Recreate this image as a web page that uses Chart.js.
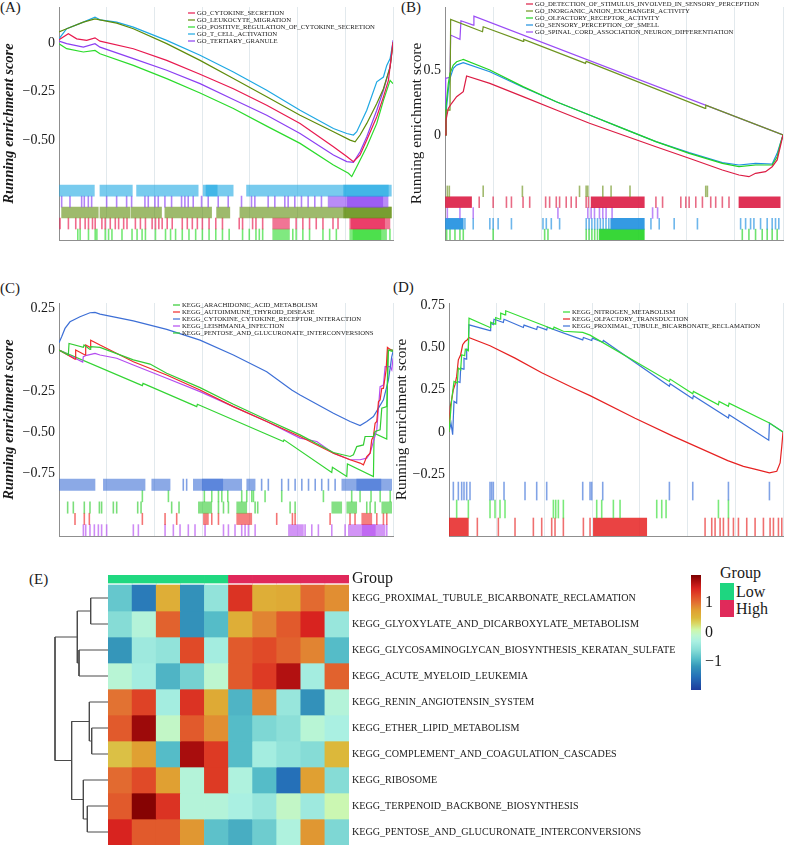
<!DOCTYPE html>
<html>
<head>
<meta charset="utf-8">
<script src="https://cdn.jsdelivr.net/npm/chart.js@4.4.1/dist/chart.umd.min.js"></script>
<style>
  body { margin: 0; background: #fff; }
  #fig { position: relative; width: 787px; height: 860px; overflow: hidden; font-family: "Liberation Serif", "DejaVu Serif", serif; color: #1a1a1a; }
  #fig canvas { position: absolute; }
  .tag { position: absolute; font-size: 15px; line-height: 15px; }
  .swatch { position: absolute; width: 14px; height: 17px; }
  .leg { position: absolute; font-size: 16px; line-height: 16px; }
</style>
</head>
<body>
<div id="fig">
  <div class="tag" style="left:0;top:0">(A)</div>
  <div class="tag" style="left:401px;top:0">(B)</div>
  <div class="tag" style="left:0;top:281px">(C)</div>
  <div class="tag" style="left:393px;top:280px">(D)</div>
  <div class="tag" style="left:29px;top:572px">(E)</div>
  <div class="leg" style="left:720px;top:565px">Group</div>
  <div class="swatch" style="left:720px;top:583px;background:#1ed680"></div>
  <div class="swatch" style="left:720px;top:600px;background:#e02a5a"></div>
  <div class="leg" style="left:736px;top:584px">Low</div>
  <div class="leg" style="left:736px;top:601px">High</div>
</div>
<script>
// ---- shared axis values ----
const X_MAX = 17950;
const X_TICKS = [5000, 10000, 15000];
const X_TICK_TEXT = ['5000', '10,000', '15,000'];

// ---- (A) GO, running enrichment score ----
const A_LABELS = ['GO_CYTOKINE_SECRETION', 'GO_LEUKOCYTE_MIGRATION', 'GO_POSITIVE_REGULATION_OF_CYTOKINE_SECRETION', 'GO_T_CELL_ACTIVATION', 'GO_TERTIARY_GRANULE'];
const A_CYTOKINE = [[0,0.017],[502,0.048],[950,0.022],[1487,0.014],[1935,0.027],[2204,0.01],[3996,-0.029],[5788,-0.089],[7580,-0.161],[9372,-0.235],[11164,-0.32],[12956,-0.414],[14748,-0.534],[15465,-0.585],[15823,-0.611],[16181,-0.577],[16540,-0.5],[17078,-0.38],[17436,-0.277],[17705,-0.192],[17950,0.005]];
const A_LEUKOCYTE = [[0,0.057],[412,0.074],[1308,0.108],[1935,0.125],[2204,0.12],[3100,0.103],[3996,0.074],[5788,-0.003],[7580,-0.089],[9372,-0.183],[11164,-0.277],[12956,-0.372],[14748,-0.457],[15644,-0.5],[15913,-0.509],[16181,-0.474],[16540,-0.414],[17078,-0.312],[17436,-0.235],[17795,-0.123],[17950,-0.003]];
const A_POSITIVE = [[0,-0.003],[412,-0.029],[1308,-0.046],[1935,-0.038],[2204,-0.055],[3996,-0.115],[5788,-0.183],[7580,-0.257],[9372,-0.337],[11164,-0.428],[12956,-0.517],[14748,-0.628],[15555,-0.671],[15734,-0.688],[16002,-0.637],[16540,-0.534],[17078,-0.414],[17436,-0.295],[17795,-0.192],[17950,-0.209]];
const A_TCELL = [[0,0.022],[412,0.074],[1308,0.108],[1935,0.134],[2204,0.12],[3100,0.108],[3996,0.082],[5788,0.014],[7580,-0.063],[9372,-0.149],[11164,-0.243],[12956,-0.346],[14748,-0.44],[15465,-0.466],[15823,-0.474],[16002,-0.457],[16540,-0.346],[17078,-0.2],[17436,-0.175],[17615,-0.115],[17795,-0.08],[17950,0.005]];
const A_TERTIARY = [[0,0.01],[412,-0.003],[1308,-0.021],[1935,-0.003],[2204,-0.021],[3996,-0.08],[5788,-0.14],[7580,-0.209],[9372,-0.291],[11164,-0.372],[12956,-0.466],[14748,-0.577],[15465,-0.611],[15823,-0.615],[16181,-0.56],[16540,-0.483],[17078,-0.346],[17436,-0.243],[17795,-0.123],[17950,0.014]];
// gene hits: single rank or [from, to] for a run of hits
const A_RUG_TCELL = [[0,1900],[2200,3940],[4170,7480],[7750,9360],[10080,17860],[7900,8500],[15300,17700]];
const A_RUG_TERTIARY = [143,590,1217,1360,1575,1754,2560,3097,3634,3902,4618,4797,5155,5334,5692,6050,6587,6766,6945,7214,7661,8019,8556,9093,9809,10346,10525,11241,11599,12136,12315,12673,13031,13389,13747,14105,[14463,17685],[15500,17400]];
const A_RUG_LEUKOCYTE = [[140,2110],[2200,3810],[3870,5510],[5690,8200],[8470,9180],[9720,17860],[15300,17860]];
const A_RUG_CYTOKINE = [55,505,900,1135,1405,1585,1800,1945,2305,2485,2755,3025,3205,3475,3655,4105,4375,4645,5005,5185,5365,5545,5815,6085,6625,6895,7165,7435,7705,8065,8425,8785,9685,9865,10405,10585,10945,[11485,12385],12745,13105,13465,13825,14185,14725,14995,[15625,17785],[15700,17500]];
const A_RUG_POSITIVE = [1010,1135,1585,1945,2035,2485,2665,2845,3385,3925,4195,4465,4645,5185,5725,5995,6265,6625,6985,7345,7705,8065,8425,8785,9145,9865,10225,10585,10765,10945,[11485,12385],12565,12745,13105,13465,14185,14545,14905,[15625,17605],[15800,17300],17785];

// ---- (B) GO, positive ----
const B_LABELS = ['GO_DETECTION_OF_STIMULUS_INVOLVED_IN_SENSORY_PERCEPTION', 'GO_INORGANIC_ANION_EXCHANGER_ACTIVITY', 'GO_OLFACTORY_RECEPTOR_ACTIVITY', 'GO_SENSORY_PERCEPTION_OF_SMELL', 'GO_SPINAL_CORD_ASSOCIATION_NEURON_DIFFERENTIATION'];
const B_DETECTION = [[0,0],[53,0.115],[176,0.205],[353,0.244],[617,0.295],[970,0.333],[1147,0.454],[2381,0.397],[4145,0.295],[5909,0.192],[7673,0.09],[9437,0],[11201,-0.09],[12965,-0.179],[14729,-0.269],[15611,-0.308],[16141,-0.321],[16493,-0.295],[17023,-0.282],[17375,-0.244],[17640,-0.192],[17950,0]];
const B_INORGANIC = [[0,0],[53,0.192],[265,0.192],[300,0.89],[1993,0.795],[2029,0.833],[4145,0.72],[4181,0.736],[7462,0.551],[7497,0.567],[13812,0.205],[13847,0.229],[17950,0]];
const B_OLFACTORY = [[0,0],[53,0.218],[176,0.397],[265,0.474],[441,0.538],[617,0.564],[882,0.577],[970,0.582],[2381,0.5],[4145,0.372],[5909,0.256],[7673,0.154],[9437,0.051],[11201,-0.051],[12965,-0.141],[14729,-0.218],[15611,-0.244],[16493,-0.231],[17375,-0.231],[17640,-0.167],[17817,-0.064],[17950,0]];
const B_SENSORY = [[0,0],[53,0.167],[176,0.346],[265,0.436],[441,0.513],[617,0.538],[970,0.556],[2381,0.487],[4145,0.367],[5909,0.256],[7673,0.154],[9437,0.051],[11201,-0.051],[12965,-0.136],[14729,-0.213],[15611,-0.231],[16493,-0.218],[17375,-0.223],[17640,-0.141],[17950,0]];
const B_SPINAL = [[0,0],[35,0.436],[265,0.444],[300,0.769],[794,0.736],[847,0.879],[1499,0.846],[1535,0.915],[17950,0]];
const B_RUG_INORGANIC = [123,229,2028,4110,7144,7496,7585,8379,8820,9825,13847,13935];
const B_RUG_DETECTION = [[0,1410],1816,2557,3263,3528,4145,4498,5345,5556,5909,6086,6438,6703,6967,7496,7620,[7760,10584],11201,11554,12524,12789,12965,13318,13671,14112,14376,14729,15082,[15611,17800]];
const B_RUG_SPINAL = [123,793,1499,5997,7585,7761,7938,8203,8379,8555,8873,11025,11290];
const B_RUG_SENSORY = [[0,970],1058,1499,2381,2557,2822,3528,5203,5380,5645,6086,7500,7650,7800,7950,8100,8250,8400,8550,8700,[8800,10584],10937,11377,12171,13406,15699,15964,16228,16405,16758,17110,17375,17552,17728];
const B_RUG_OLFACTORY = [88,265,529,793,970,2557,5292,5468,7500,7650,7800,7950,8100,[8200,10584],15788,16140,16493,16846,17110,17375,17640];

// ---- (C) KEGG, negative ----
const C_LABELS = ['KEGG_ARACHIDONIC_ACID_METABOLISM', 'KEGG_AUTOIMMUNE_THYROID_DISEASE', 'KEGG_CYTOKINE_CYTOKINE_RECEPTOR_INTERACTION', 'KEGG_LEISHMANIA_INFECTION', 'KEGG_PENTOSE_AND_GLUCURONATE_INTERCONVERSIONS'];
const C_ARACHIDONIC = [[0,0],[502,-0.03],[538,0.04],[1308,0.016],[1344,0.03],[1667,0.004],[1702,0.02],[2204,0.016],[3996,-0.06],[4892,-0.085],[5788,-0.141],[7580,-0.228],[9372,-0.329],[11164,-0.423],[12956,-0.514],[14748,-0.621],[15644,-0.645],[15823,-0.635],[16002,-0.585],[16360,-0.575],[16450,-0.524],[16898,-0.524],[16988,-0.494],[17257,-0.484],[17347,-0.353],[17615,-0.343],[17705,0],[17950,0]];
const C_AUTOIMMUNE = [[0,0],[860,-0.056],[896,0],[1398,-0.03],[1434,0.03],[1667,0.016],[1702,0.06],[2204,0.03],[3996,-0.071],[5788,-0.151],[7580,-0.242],[9372,-0.343],[11164,-0.433],[12956,-0.524],[14748,-0.625],[15644,-0.665],[16181,-0.685],[16360,-0.696],[16540,-0.645],[16719,-0.625],[16809,-0.544],[16898,-0.524],[16988,-0.444],[17078,-0.433],[17168,-0.313],[17257,-0.302],[17347,-0.232],[17436,-0.232],[17580,-0.121],[17650,0.016],[17800,0.004],[17950,-0.004]];
const C_CYTOKINE = [[0,0.044],[143,0.081],[323,0.131],[591,0.171],[1129,0.202],[1667,0.226],[1935,0.228],[2204,0.218],[3996,0.177],[5788,0.125],[7580,0.06],[9372,-0.03],[11164,-0.131],[12508,-0.242],[12956,-0.272],[14748,-0.383],[15644,-0.433],[16181,-0.458],[16540,-0.433],[16898,-0.403],[17436,-0.302],[17705,-0.181],[17884,-0.04],[17950,-0.01]];
const C_LEISHMANIA = [[0,0],[1272,-0.073],[1308,-0.04],[1487,-0.032],[1935,-0.02],[2204,-0.03],[3100,-0.05],[3996,-0.091],[5788,-0.171],[7580,-0.252],[9372,-0.343],[11164,-0.433],[12956,-0.534],[13852,-0.554],[14748,-0.625],[15644,-0.665],[16181,-0.665],[16540,-0.655],[16719,-0.625],[16898,-0.554],[17078,-0.484],[17257,-0.222],[17436,-0.212],[17526,-0.101],[17795,-0.101],[17884,-0.121],[17950,-0.05]];
const C_PENTOSE = [[0,0],[4480,-0.216],[4516,-0.202],[7401,-0.343],[7437,-0.329],[12060,-0.554],[12096,-0.544],[14658,-0.742],[14694,-0.71],[15465,-0.766],[15501,-0.69],[16898,-0.766],[16934,-0.504],[17615,-0.54],[17669,0],[17950,-0.01]];
const C_RUG_CYTOKINE = [[0,1935],[2385,4625],[4985,5970],6680,6860,[7220,9820],[10090,10540],10890,11250,11970,12330,12690,13050,13410,13770,14120,14480,14840,[15200,17880],[7700,8800],[16000,17300]];
const C_RUG_PENTOSE = [4480,5880,7810,8210,8570,8750,9070,9820,10090,10360,10450,11075,11970,14210,15730,16180,16770,17260,17800];
const C_RUG_ARACHIDONIC = [465,770,1360,1665,2170,2290,2920,3100,4230,4410,6055,6450,[7490,8210],8570,8840,9105,[9550,10090],10540,10680,12420,12690,[14660,15195],[15465,16000],16540,16720,16990,[17345,17880]];
const C_RUG_AUTOIMMUNE = [860,1360,1630,4480,5700,6325,[7760,8030],8210,8570,[9550,10360],11700,12545,12690,14570,15640,15910,[16270,16810],17080,17435,17615];
const C_RUG_LEISHMANIA = [1310,1435,1665,1900,2115,2290,2560,3995,4265,5700,6145,6505,6950,7310,7850,8840,9105,9460,9820,10000,10180,10540,[12330,13135],13225,13585,13940,14660,15375,[15550,17525],[16300,17000],17615];

// ---- (D) KEGG, positive ----
const D_LABELS = ['KEGG_NITROGEN_METABOLISM', 'KEGG_OLFACTORY_TRANSDUCTION', 'KEGG_PROXIMAL_TUBULE_BICARBONATE_RECLAMATION'];
const D_NITROGEN = [[0,0],[143,0.191],[269,0.299],[448,0.289],[502,0.378],[627,0.368],[681,0.457],[842,0.451],[878,0.49],[1039,0.48],[1075,0.673],[2204,0.618],[2240,0.65],[2473,0.638],[2509,0.677],[2742,0.667],[2778,0.703],[3011,0.693],[3046,0.717],[5609,0.608],[5645,0.62],[6146,0.596],[7186,0.589],[7580,0.573],[11845,0.299],[11881,0.313],[13100,0.226],[13135,0.24],[14479,0.161],[14515,0.181],[15017,0.152],[15053,0.171],[17221,0.053],[17950,0]];
const D_OLFACTORY = [[0,0],[72,0.152],[143,0.191],[233,0.25],[323,0.28],[412,0.329],[502,0.427],[627,0.457],[735,0.516],[860,0.535],[986,0.545],[1057,0.559],[2204,0.51],[3548,0.437],[4982,0.35],[6684,0.26],[7580,0.215],[9999,0.081],[12060,-0.026],[14981,-0.169],[15823,-0.203],[16540,-0.222],[17221,-0.242],[17615,-0.232],[17795,-0.183],[17884,-0.085],[17950,0]];
const D_PROXIMAL = [[0,0],[108,0.053],[197,-0.016],[269,0.181],[412,0.171],[448,0.299],[591,0.293],[627,0.378],[771,0.372],[806,0.437],[914,0.431],[950,0.49],[1039,0.486],[1075,0.634],[2204,0.6],[2240,0.644],[2383,0.636],[2419,0.667],[2921,0.648],[2957,0.667],[3996,0.618],[4032,0.632],[4713,0.606],[4749,0.624],[5250,0.604],[5286,0.62],[7186,0.545],[7222,0.559],[7670,0.541],[7706,0.555],[8261,0.531],[8297,0.541],[11845,0.27],[11881,0.285],[13100,0.197],[13135,0.215],[15017,0.083],[15053,0.102],[17185,-0.049],[17221,0.053],[17950,0]];
const D_RUG_PROXIMAL = [233,502,681,806,950,1129,2204,2294,2383,2957,4085,4713,5250,7186,7580,7670,8261,11845,13100,15017,17221];
const D_RUG_NITROGEN = [412,1040,2204,2473,2742,3010,5609,5734,5877,6146,7938,8207,8834,9193,11164,11433,11666,14480,15017];
const D_RUG_OLFACTORY = [[18,1040],1523,2652,3548,4534,4982,5519,5698,6146,7222,7580,[7759,10626],13762,14121,14300,14569,14748,15017,15286,15555,16002,16450,16898,17256,17436,17705,17884];

// ---- (E) heatmap ----
const SAMPLES = ['S1','S2','S3','S4','S5','S6','S7','S8','S9','S10'];
const GROUPS = ['Low','Low','Low','Low','Low','High','High','High','High','High'];
const PATHWAYS = ['KEGG_PROXIMAL_TUBULE_BICARBONATE_RECLAMATION', 'KEGG_GLYOXYLATE_AND_DICARBOXYLATE_METABOLISM', 'KEGG_GLYCOSAMINOGLYCAN_BIOSYNTHESIS_KERATAN_SULFATE', 'KEGG_ACUTE_MYELOID_LEUKEMIA', 'KEGG_RENIN_ANGIOTENSIN_SYSTEM', 'KEGG_ETHER_LIPID_METABOLISM', 'KEGG_COMPLEMENT_AND_COAGULATION_CASCADES', 'KEGG_RIBOSOME', 'KEGG_TERPENOID_BACKBONE_BIOSYNTHESIS', 'KEGG_PENTOSE_AND_GLUCURONATE_INTERCONVERSIONS'];
const HM = [
  [-0.8, -1.4, 0.6, -1.2, -0.5, 1.4, 0.6, 0.65, 1.05, 0.85],
  [-0.6, -0.2, 1.1, -1.2, -0.9, 0.6, 0.9, 1.15, 1.5, -0.45],
  [-1.15, -0.4, -0.5, 1.25, -0.35, 1.15, 1.25, 1.1, 0.9, -0.9],
  [-0.15, -0.35, -0.95, -0.7, -0.1, 1.15, 1.35, 1.7, -0.35, 1.1],
  [1.0, 1.3, -0.35, 1.4, 0.65, -0.95, 0.9, -0.45, -1.2, -0.2],
  [1.15, 1.8, -0.05, 1.15, 0.85, -0.9, -0.65, -0.55, -0.15, -0.3],
  [0.45, 0.75, -0.9, 1.75, 1.35, -0.9, -0.35, -0.5, -0.6, 0.5],
  [1.05, 1.25, 0.75, -0.2, 1.35, -0.25, -0.9, -1.5, 0.75, -0.6],
  [1.15, 1.9, 1.4, -0.2, -0.2, -0.3, -0.45, -0.05, -0.4, 0.05],
  [1.5, 1.15, 1.15, 0.8, -0.85, -1.0, -0.75, -0.25, 0.8, -0.65]
];
// row clustering: [left, right, height]; leaves 0-9, merged nodes from 10
const MERGES = [[0,1,3.27],[5,6,3.08],[4,11,3.52],[8,9,3.9],[7,13,4.65],[2,3,5.47],[10,15,5.79],[12,14,6.86],[16,17,10]];
const SCALE_TICKS = [-1, 0, 1];
const COLOR_STOPS = [[-1.95,'#1d3c9c'],[-1.5,'#2570b8'],[-1.15,'#3596ba'],[-0.9,'#55bcc8'],[-0.6,'#86dcd6'],[-0.3,'#aaf0e2'],[-0.1,'#bdf6d0'],[0.1,'#cff7a8'],[0.3,'#d9d865'],[0.5,'#dcb83a'],[0.75,'#e0a032'],[1.0,'#e27232'],[1.25,'#e04a28'],[1.5,'#d8231f'],[1.75,'#a80d0d'],[1.95,'#7a0000']];
const GROUP_COLORS = {Low: '#20d880', High: '#e0285a'};

// ---------------------------------------------------------------
const FONT = '"Liberation Serif", "DejaVu Serif", serif';
Chart.defaults.font.family = FONT;
const INK = '#1a1a1a', AXIS = '#8f8f8f', GRID = '#e2e9ed';
const TICK_HALF = 25;

function rgba(hex, a) {
  const n = parseInt(hex.slice(1), 16);
  return `rgba(${n >> 16},${(n >> 8) & 255},${n & 255},${a})`;
}
function fmt(v, d) {
  return v === 0 ? '0' : (v < 0 ? '\u2212' : '') + Math.abs(v).toFixed(d);
}
function mkCanvas(b) {
  const c = document.createElement('canvas');
  c.width = b.w; c.height = b.h;
  Object.assign(c.style, {left: b.l + 'px', top: b.t + 'px', width: b.w + 'px', height: b.h + 'px'});
  document.getElementById('fig').appendChild(c);
  return c;
}
function heatColor(v) {
  const s = COLOR_STOPS;
  if (v <= s[0][0]) return s[0][1];
  for (let i = 1; i < s.length; i++) {
    if (v <= s[i][0]) {
      const t = (v - s[i - 1][0]) / (s[i][0] - s[i - 1][0]);
      const a = parseInt(s[i - 1][1].slice(1), 16), b = parseInt(s[i][1].slice(1), 16);
      const mix = sh => Math.round(((a >> sh) & 255) * (1 - t) + ((b >> sh) & 255) * t);
      return `rgb(${mix(16)},${mix(8)},${mix(0)})`;
    }
  }
  return s[s.length - 1][1];
}

// small line-key drawn inside the plot, like the ggplot legend
const lineLegend = {
  id: 'lineLegend',
  afterDraw(chart, args, opts) {
    const ctx = chart.ctx;
    ctx.save();
    ctx.font = `${opts.size}px ${FONT}`;
    ctx.textBaseline = 'middle';
    chart.data.datasets.filter(d => d.type === 'line').forEach((d, i) => {
      const y = opts.y + i * opts.gap;
      ctx.strokeStyle = d.borderColor;
      ctx.lineWidth = 1.2;
      ctx.beginPath(); ctx.moveTo(opts.x, y); ctx.lineTo(opts.x + 7, y); ctx.stroke();
      ctx.fillStyle = INK;
      ctx.fillText(d.label, opts.x + 9, y);
    });
    ctx.restore();
  }
};

function gsea(p) {
  const b = p.box, a = p.area;
  const rowH = (p.rugTop - p.yMin) / p.rugs.length;
  const datasets = p.series.map(s => ({
    type: 'line', label: s.label, data: s.points.map(([x, y]) => ({x, y})),
    borderColor: s.color, borderWidth: 1.2, pointRadius: 0, tension: 0, fill: false
  }));
  p.rugs.forEach((r, i) => {
    const yc = p.rugTop - rowH * (i + 0.5);
    datasets.push({
      type: 'bar', indexAxis: 'y',
      data: r.hits.map(h => ({y: yc, x: Array.isArray(h) ? h : [h - TICK_HALF, h + TICK_HALF]})),
      backgroundColor: r.hits.map(h => rgba(r.color, Array.isArray(h) ? p.blockAlpha : p.tickAlpha)),
      borderWidth: 0, grouped: false, barPercentage: 1, categoryPercentage: 1
    });
  });
  const yW = a.l - p.axisLeft, xH = b.t + b.h - a.b;
  new Chart(mkCanvas(b), {
    type: 'line',
    data: {datasets},
    options: {
      responsive: false, animation: false, events: [],
      layout: {autoPadding: false, padding: {left: p.axisLeft - b.l, top: a.t - b.t, right: b.l + b.w - a.r, bottom: 0}},
      plugins: {
        legend: {display: false}, tooltip: {enabled: false},
        lineLegend: {x: p.legend.x - b.l, y: p.legend.y - b.t, gap: 7, size: 6.7}
      },
      scales: {
        x: {
          type: 'linear', min: 0, max: X_MAX, offset: false,
          grid: {color: GRID, lineWidth: 1, drawTicks: false, offset: false},
          border: {color: AXIS, width: 1},
          ticks: {
            stepSize: 2500, includeBounds: false, autoSkip: false, maxRotation: 0,
            padding: p.xPad, color: INK, font: {size: 14},
            callback: v => { const k = X_TICKS.indexOf(v); return k < 0 ? '' : X_TICK_TEXT[k]; }
          },
          afterFit: s => { s.height = xH; s.paddingLeft = 0; s.paddingRight = 0; }
        },
        y: {
          type: 'linear', min: p.yMin, max: p.yMax, offset: false, beginAtZero: false,
          grid: {display: false, drawTicks: false},
          border: {color: AXIS, width: 1},
          afterBuildTicks: s => { s.ticks = p.yTicks.map(v => ({value: v})); },
          ticks: {padding: 4, color: INK, font: {size: 14}, callback: v => fmt(v, p.dec)},
          title: {display: true, text: 'Running enrichment score', color: INK, padding: 0, font: p.titleFont},
          afterFit: s => { s.width = yW; s.paddingTop = 0; s.paddingBottom = 0; }
        }
      }
    },
    plugins: [lineLegend]
  });
}

const TITLE_IT = {size: 14.5, style: 'italic', weight: 'bold', lineHeight: 1.2};
const TITLE_UP = {size: 15.3, lineHeight: 1.2};

// (A)
const aC = {cyt: '#e8194f', leu: '#5e8c0a', pos: '#2bdb2b', tce: '#1ea8e3', ter: '#8b3ff2'};
gsea({
  box: {l: 0, t: 0, w: 395, h: 270}, area: {l: 59, t: 7, r: 393, b: 240}, axisLeft: 1,
  yMin: -1.015, yMax: 0.186, yTicks: [0, -0.25, -0.5], dec: 2, rugTop: -0.732, xPad: 7,
  titleFont: TITLE_IT, legend: {x: 188, y: 13}, tickAlpha: 0.65, blockAlpha: 0.6,
  series: [
    {label: A_LABELS[0], color: aC.cyt, points: A_CYTOKINE},
    {label: A_LABELS[1], color: aC.leu, points: A_LEUKOCYTE},
    {label: A_LABELS[2], color: aC.pos, points: A_POSITIVE},
    {label: A_LABELS[3], color: aC.tce, points: A_TCELL},
    {label: A_LABELS[4], color: aC.ter, points: A_TERTIARY}
  ],
  rugs: [
    {hits: A_RUG_TCELL, color: aC.tce}, {hits: A_RUG_TERTIARY, color: aC.ter},
    {hits: A_RUG_LEUKOCYTE, color: aC.leu}, {hits: A_RUG_CYTOKINE, color: aC.cyt},
    {hits: A_RUG_POSITIVE, color: aC.pos}
  ]
});

// (B)
const bC = {det: '#dc1c44', ino: '#6e9420', olf: '#22d322', sen: '#1e8fe0', spi: '#9a4cf5'};
gsea({
  box: {l: 395, t: 0, w: 392, h: 270}, area: {l: 445, t: 7, r: 783, b: 240}, axisLeft: 408,
  yMin: -0.808, yMax: 0.985, yTicks: [0.5, 0], dec: 1, rugTop: -0.392, xPad: 7,
  titleFont: TITLE_UP, legend: {x: 526, y: 4}, tickAlpha: 0.65, blockAlpha: 0.9,
  series: [
    {label: B_LABELS[0], color: bC.det, points: B_DETECTION},
    {label: B_LABELS[1], color: bC.ino, points: B_INORGANIC},
    {label: B_LABELS[2], color: bC.olf, points: B_OLFACTORY},
    {label: B_LABELS[3], color: bC.sen, points: B_SENSORY},
    {label: B_LABELS[4], color: bC.spi, points: B_SPINAL}
  ],
  rugs: [
    {hits: B_RUG_INORGANIC, color: bC.ino}, {hits: B_RUG_DETECTION, color: bC.det},
    {hits: B_RUG_SPINAL, color: bC.spi}, {hits: B_RUG_SENSORY, color: bC.sen},
    {hits: B_RUG_OLFACTORY, color: bC.olf}
  ]
});

// (C)
const cC = {ara: '#33cc33', aut: '#ee2a2a', cyt: '#3d6fd6', lei: '#b44cf0', pen: '#33d433'};
gsea({
  box: {l: 0, t: 296, w: 395, h: 270}, area: {l: 59, t: 303, r: 393, b: 536}, axisLeft: 1,
  yMin: -1.127, yMax: 0.285, yTicks: [0.25, 0, -0.25, -0.5, -0.75], dec: 2, rugTop: -0.782, xPad: 4,
  titleFont: TITLE_IT, legend: {x: 173, y: 305}, tickAlpha: 0.65, blockAlpha: 0.6,
  series: [
    {label: C_LABELS[0], color: cC.ara, points: C_ARACHIDONIC},
    {label: C_LABELS[1], color: cC.aut, points: C_AUTOIMMUNE},
    {label: C_LABELS[2], color: cC.cyt, points: C_CYTOKINE},
    {label: C_LABELS[3], color: cC.lei, points: C_LEISHMANIA},
    {label: C_LABELS[4], color: cC.pen, points: C_PENTOSE}
  ],
  rugs: [
    {hits: C_RUG_CYTOKINE, color: cC.cyt}, {hits: C_RUG_PENTOSE, color: cC.pen},
    {hits: C_RUG_ARACHIDONIC, color: cC.ara}, {hits: C_RUG_AUTOIMMUNE, color: cC.aut},
    {hits: C_RUG_LEISHMANIA, color: cC.lei}
  ]
});

// (D)
const dC = {nit: '#33dd33', olf: '#e62222', pro: '#3d72d8'};
gsea({
  box: {l: 390, t: 296, w: 397, h: 270}, area: {l: 449, t: 303, r: 783, b: 536}, axisLeft: 393,
  yMin: -0.615, yMax: 0.763, yTicks: [0.75, 0.5, 0.25, 0, -0.25], dec: 2, rugTop: -0.296, xPad: 4,
  titleFont: TITLE_UP, legend: {x: 563, y: 312}, tickAlpha: 0.65, blockAlpha: 0.85,
  series: [
    {label: D_LABELS[0], color: dC.nit, points: D_NITROGEN},
    {label: D_LABELS[1], color: dC.olf, points: D_OLFACTORY},
    {label: D_LABELS[2], color: dC.pro, points: D_PROXIMAL}
  ],
  rugs: [
    {hits: D_RUG_PROXIMAL, color: dC.pro}, {hits: D_RUG_NITROGEN, color: dC.nit},
    {hits: D_RUG_OLFACTORY, color: dC.olf}
  ]
});

// (E) heatmap
const N = PATHWAYS.length;
const GROUP_BAND = [10.077, 10.385];
const Y_TOP = GROUP_BAND[1];
const hmSets = HM.map((row, i) => ({
  data: row.map(() => [N - 1 - i, N - i]),
  backgroundColor: row.map(heatColor)
}));
hmSets.push({data: SAMPLES.map(() => GROUP_BAND), backgroundColor: GROUPS.map(g => GROUP_COLORS[g])});
const rowTicks = PATHWAYS.map((_, i) => N - 0.5 - i);
const groupTick = (GROUP_BAND[0] + GROUP_BAND[1]) / 2;

new Chart(mkCanvas({l: 100, t: 565, w: 590, h: 290}), {
  type: 'bar',
  data: {labels: SAMPLES, datasets: hmSets},
  options: {
    responsive: false, animation: false, events: [],
    layout: {autoPadding: false, padding: {left: 8, top: 10, right: 0, bottom: 10}},
    datasets: {bar: {grouped: false, barPercentage: 1, categoryPercentage: 1, borderWidth: 0}},
    plugins: {legend: {display: false}, tooltip: {enabled: false}},
    scales: {
      x: {display: false},
      y: {
        position: 'right', min: 0, max: Y_TOP, beginAtZero: false,
        grid: {display: false, drawTicks: false}, border: {display: false},
        afterBuildTicks: s => { s.ticks = [...rowTicks, groupTick].map(v => ({value: v})); },
        ticks: {
          autoSkip: false, padding: 3, color: INK,
          font: c => ({size: c.tick && c.tick.value > N ? 16 : 10.1}),
          callback: v => v > N ? 'Group' : PATHWAYS[Math.round(N - 0.5 - v)]
        },
        afterFit: s => { s.width = 341; s.paddingTop = 0; s.paddingBottom = 0; }
      }
    }
  }
});

// row dendrogram
const nodes = PATHWAYS.map((_, i) => ({y: N - 0.5 - i, h: 0}));
const dendroSets = MERGES.map(([l, r, h]) => {
  const A = nodes[l], B = nodes[r];
  nodes.push({y: (A.y + B.y) / 2, h});
  return {
    data: [{x: A.h, y: A.y}, {x: h, y: A.y}, {x: h, y: B.y}, {x: B.h, y: B.y}],
    borderColor: '#4a4a4a', borderWidth: 1, pointRadius: 0, tension: 0, clip: 3
  };
});
new Chart(mkCanvas({l: 48, t: 565, w: 62, h: 290}), {
  type: 'line',
  data: {datasets: dendroSets},
  options: {
    responsive: false, animation: false, events: [],
    layout: {autoPadding: false, padding: {left: 7, top: 10, right: 2, bottom: 10}},
    plugins: {legend: {display: false}, tooltip: {enabled: false}},
    scales: {
      x: {type: 'linear', min: 0, max: 10, reverse: true, display: false},
      y: {type: 'linear', min: 0, max: Y_TOP, display: false}
    }
  }
});

// colour key
const colorBar = {
  id: 'colorBar',
  beforeDatasetsDraw(chart) {
    const {ctx, chartArea: a, scales: {y}} = chart;
    const g = ctx.createLinearGradient(0, a.bottom, 0, a.top);
    COLOR_STOPS.forEach(([v, c]) => g.addColorStop((v - y.min) / (y.max - y.min), c));
    ctx.fillStyle = g;
    ctx.fillRect(a.left, a.top, a.width, a.height);
  }
};
new Chart(mkCanvas({l: 680, t: 565, w: 60, h: 135}), {
  type: 'bar',
  data: {labels: [''], datasets: []},
  options: {
    responsive: false, animation: false, events: [],
    layout: {autoPadding: false, padding: {left: 11, top: 10, right: 0, bottom: 10}},
    plugins: {legend: {display: false}, tooltip: {enabled: false}},
    scales: {
      x: {display: false},
      y: {
        position: 'right', min: COLOR_STOPS[0][0], max: COLOR_STOPS[COLOR_STOPS.length - 1][0],
        grid: {display: false, drawTicks: false}, border: {display: false},
        afterBuildTicks: s => { s.ticks = SCALE_TICKS.map(v => ({value: v})); },
        ticks: {padding: 4, color: INK, font: {size: 16}, callback: v => fmt(v, 0)},
        afterFit: s => { s.width = 39; s.paddingTop = 0; s.paddingBottom = 0; }
      }
    }
  },
  plugins: [colorBar]
});
</script>
</body>
</html>
